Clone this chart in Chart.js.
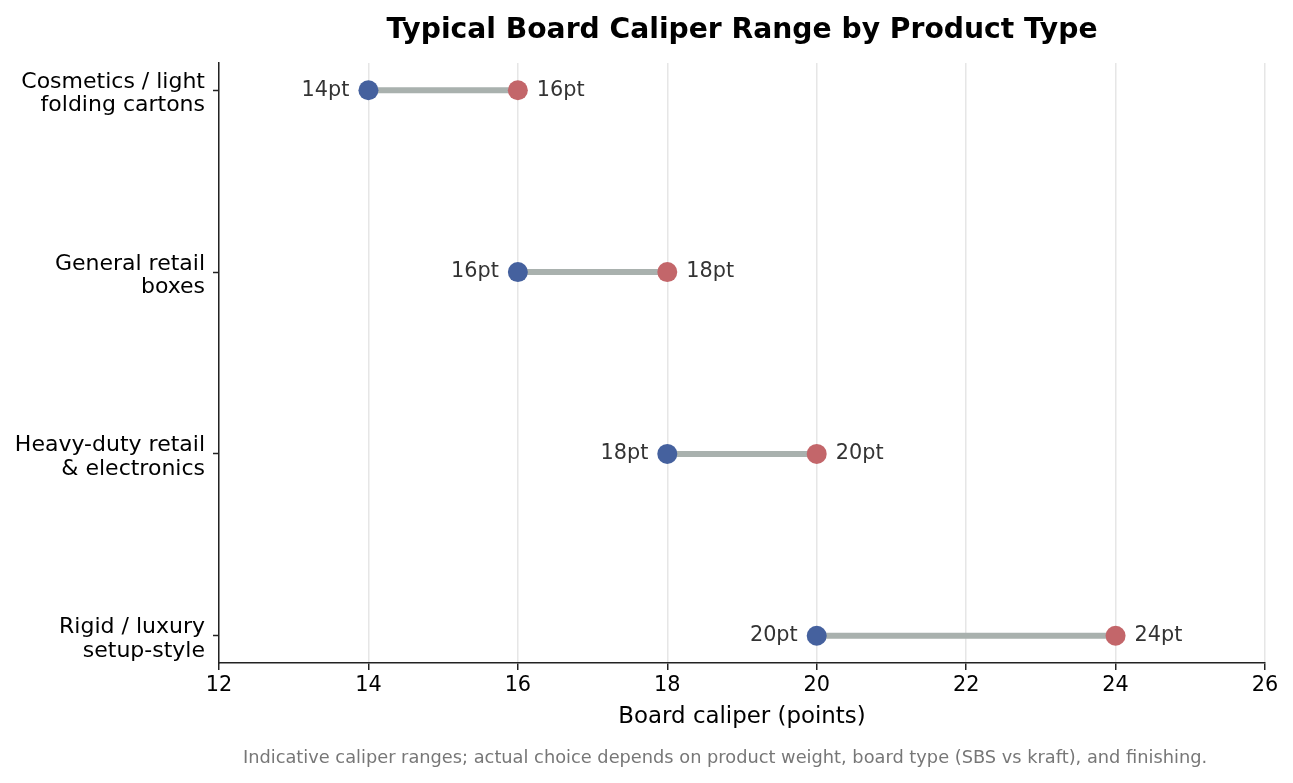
<!DOCTYPE html>
<html>
<head>
<meta charset="utf-8">
<script src="https://cdn.jsdelivr.net/npm/chart.js@4.4.1/dist/chart.umd.min.js"></script>
<style>
  html, body { margin: 0; padding: 0; background: #ffffff; }
  #wrap { width: 1293px; height: 783px; }
</style>
</head>
<body>
<div id="wrap"><canvas id="c" width="1293" height="783"></canvas></div>
<script>
const categories = [
  ['Cosmetics / light', 'folding cartons'],
  ['General retail', 'boxes'],
  ['Heavy-duty retail', '& electronics'],
  ['Rigid / luxury', 'setup-style']
];
const minCaliper = [14, 16, 18, 20];
const maxCaliper = [16, 18, 20, 24];
const xTicks = [12, 14, 16, 18, 20, 22, 24, 26];

const FONT = 'DejaVu Sans';
const BLUE = '#45619e';
const RED = '#c3666a';
const GREY = '#a9b1ae';

const minPoints = minCaliper.map((v, i) => ({ x: v, y: i }));
const maxPoints = maxCaliper.map((v, i) => ({ x: v, y: i }));

const lineSets = categories.map((c, i) => ({
  type: 'scatter',
  data: [{ x: minCaliper[i], y: i }, { x: maxCaliper[i], y: i }],
  showLine: true,
  borderColor: GREY,
  borderWidth: 6,
  borderCapStyle: 'butt',
  pointRadius: 0,
  pointHoverRadius: 0,
  order: 2
}));

const labelPlugin = {
  id: 'dumbbellLabels',
  afterDatasetsDraw(chart) {
    const ctx = chart.ctx;
    ctx.save();
    ctx.font = '20.8px "' + FONT + '"';
    ctx.fillStyle = '#333333';
    ctx.textBaseline = 'middle';
    const mMin = chart.getDatasetMeta(0);
    const mMax = chart.getDatasetMeta(1);
    mMin.data.forEach((pt, i) => {
      ctx.textAlign = 'right';
      ctx.fillText(minCaliper[i] + 'pt', pt.x - 19, pt.y);
    });
    mMax.data.forEach((pt, i) => {
      ctx.textAlign = 'left';
      ctx.fillText(maxCaliper[i] + 'pt', pt.x + 19, pt.y);
    });
    // category labels on the y axis (multi-line, matplotlib-like placement)
    const ys = chart.scales.y;
    ctx.font = '22px "' + FONT + '"';
    ctx.fillStyle = '#000000';
    ctx.textAlign = 'right';
    categories.forEach((lines, i) => {
      const py = ys.getPixelForValue(i);
      ctx.fillText(lines[0], ys.right - 14, py - 8.2);
      ctx.fillText(lines[1], ys.right - 14, py + 15.1);
    });
    // footnote
    ctx.font = '17.8px "' + FONT + '"';
    ctx.fillStyle = '#777777';
    ctx.textAlign = 'center';
    ctx.fillText('Indicative caliper ranges; actual choice depends on product weight, board type (SBS vs kraft), and finishing.', 725, 758);
    ctx.restore();
  }
};

new Chart(document.getElementById('c'), {
  type: 'scatter',
  data: {
    datasets: [
      {
        label: 'Min',
        data: minPoints,
        backgroundColor: BLUE,
        borderColor: BLUE,
        borderWidth: 0,
        pointRadius: 10,
        pointHoverRadius: 10,
        order: 0
      },
      {
        label: 'Max',
        data: maxPoints,
        backgroundColor: RED,
        borderColor: RED,
        borderWidth: 0,
        pointRadius: 10,
        pointHoverRadius: 10,
        order: 0
      },
      ...lineSets
    ]
  },
  options: {
    responsive: false,
    animation: false,
    devicePixelRatio: 1,
    layout: { padding: { left: 0, right: 28, top: 0, bottom: 0 } },
    plugins: {
      legend: { display: false },
      tooltip: { enabled: false },
      title: {
        display: true,
        text: 'Typical Board Caliper Range by Product Type',
        fullSize: false,
        color: '#000000',
        font: { family: FONT, size: 28.2, weight: 'bold', lineHeight: 1.2 },
        padding: { top: 13.5, bottom: 15.66 }
      }
    },
    scales: {
      x: {
        type: 'linear',
        position: 'bottom',
        min: 12,
        max: 26,
        afterBuildTicks: (s) => { s.ticks = xTicks.map(v => ({ value: v })); },
        afterFit: (s) => { s.height = 120; },
        ticks: {
          color: '#000000',
          font: { family: FONT, size: 20.8 },
          padding: 3
        },
        grid: {
          color: '#e6e6e6',
          lineWidth: 1.5,
          drawOnChartArea: true,
          drawTicks: true,
          tickLength: 7,
          tickColor: '#222222',
          tickWidth: 1.5
        },
        border: { display: true, color: '#222222', width: 1.5 },
        title: {
          display: true,
          text: 'Board caliper (points)',
          color: '#000000',
          font: { family: FONT, size: 22.9 },
          padding: { top: 0, bottom: 52 }
        }
      },
      y: {
        type: 'linear',
        position: 'left',
        min: -0.15,
        max: 3.15,
        reverse: true,
        afterBuildTicks: (s) => { s.ticks = categories.map((c, i) => ({ value: i })); },
        afterFit: (s) => { s.width = 219; },
        ticks: {
          display: false
        },
        grid: {
          drawOnChartArea: false,
          drawTicks: true,
          tickLength: 6,
          tickColor: '#222222',
          tickWidth: 1.5
        },
        border: { display: true, color: '#222222', width: 1.5 }
      }
    }
  },
  plugins: [labelPlugin]
});
</script>
</body>
</html>
